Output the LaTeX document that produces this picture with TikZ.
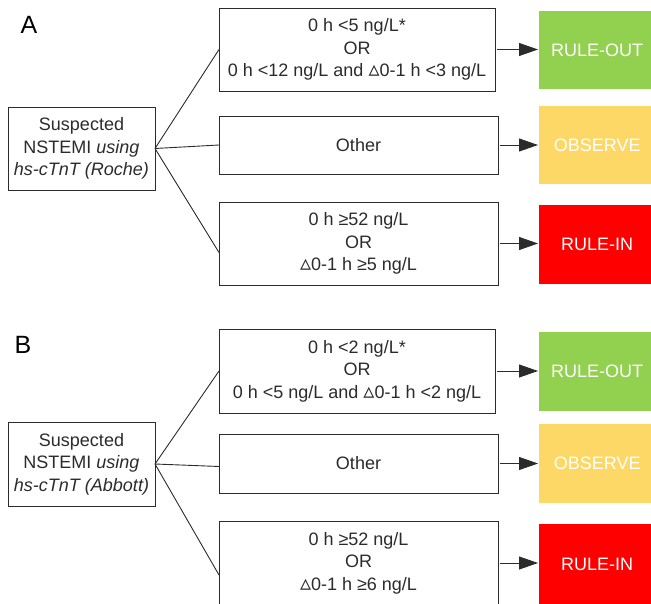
\documentclass[tikz,border=0pt]{standalone}
\usepackage{fontspec}
\setmainfont{Liberation Sans}
\newfontfamily\dvfont{DejaVu Sans}
\newcommand{\dtri}{{\dvfont\fontsize{22}{22}\selectfont ▵}}
\usetikzlibrary{arrows.meta}
\definecolor{ruleout}{HTML}{92D050}
\definecolor{observe}{HTML}{FDD866}
\definecolor{rulein}{HTML}{FF0000}
\definecolor{txt}{HTML}{2B2B2B}
\tikzset{
  every node/.style={font=\fontsize{18}{22.5}\selectfont, text=txt},
  condbox/.style={draw=txt, line width=0.9pt, align=center, inner sep=0pt, outer sep=0pt, anchor=north west},
  outbox/.style={fill=#1, draw=none, text=white, align=center, inner sep=0pt, anchor=north west, minimum width=116pt},
  branch/.style={draw=txt, line width=0.9pt},
  arr/.style={draw=txt, line width=0.9pt, shorten <=2pt, shorten >=1pt, -{Triangle[length=19pt,width=13pt]}},
  panellabel/.style={font=\fontsize{25}{28}\selectfont, text=black}
}
\begin{document}
\begin{tikzpicture}[x=1pt,y=-1pt]
\useasboundingbox (0,0) rectangle (651,604);
% ---------- Panel A ----------
\node[panellabel] (labA) at (29,25) {A};
\node[condbox, minimum width=147pt, minimum height=83pt] (sA) at (8,107)
  {Suspected\\NSTEMI \textit{using}\\\textit{hs-cTnT (Roche)}};
\node[condbox, minimum width=276pt, minimum height=83pt] (a1) at (219,8)
  {0 h <5 ng/L*\\OR\\0 h <12 ng/L and \dtri0-1 h <3 ng/L};
\node[condbox, minimum width=279pt, minimum height=58pt] (a2) at (219,116) {Other};
\node[condbox, minimum width=279pt, minimum height=83pt] (a3) at (219,202)
  {0 h ≥52 ng/L\\OR\\\dtri0-1 h ≥5 ng/L};
\node[outbox=ruleout, minimum height=78pt] (oa1) at (539,11) {RULE-OUT};
\node[outbox=observe, minimum height=78pt] (oa2) at (539,106) {OBSERVE};
\node[outbox=rulein, minimum height=79pt] (oa3) at (539,205) {RULE-IN};
\draw[branch] (sA.east) -- (a1.west);
\draw[branch] (sA.east) -- (a2.west);
\draw[branch] (sA.east) -- ([yshift=-9pt]a3.west);
\draw[arr] (a1.east) -- (a1.east -| oa1.west);
\draw[arr] (a2.east) -- (a2.east -| oa2.west);
\draw[arr] (a3.east) -- (a3.east -| oa3.west);
% ---------- Panel B ----------
\node[panellabel] (labB) at (23,345) {B};
\node[condbox, minimum width=147pt, minimum height=84pt] (sB) at (8,422)
  {Suspected\\NSTEMI \textit{using}\\\textit{hs-cTnT (Abbott)}};
\node[condbox, minimum width=276pt, minimum height=84pt] (b1) at (219,329)
  {0 h <2 ng/L*\\OR\\0 h <5 ng/L and \dtri0-1 h <2 ng/L};
\node[condbox, minimum width=279pt, minimum height=59pt] (b2) at (219,434) {Other};
\node[condbox, minimum width=279pt, minimum height=84pt] (b3) at (219,521)
  {0 h ≥52 ng/L\\OR\\\dtri0-1 h ≥6 ng/L};
\node[outbox=ruleout, minimum height=79pt] (ob1) at (539,332) {RULE-OUT};
\node[outbox=observe, minimum height=79pt] (ob2) at (539,424) {OBSERVE};
\node[outbox=rulein, minimum height=81pt] (ob3) at (539,524) {RULE-IN};
\draw[branch] (sB.east) -- (b1.west);
\draw[branch] (sB.east) -- ([yshift=-3pt]b2.west);
\draw[branch] (sB.east) -- ([yshift=-12pt]b3.west);
\draw[arr] (b1.east) -- (b1.east -| ob1.west);
\draw[arr] (b2.east) -- (b2.east -| ob2.west);
\draw[arr] (b3.east) -- (b3.east -| ob3.west);
\end{tikzpicture}
\end{document}
